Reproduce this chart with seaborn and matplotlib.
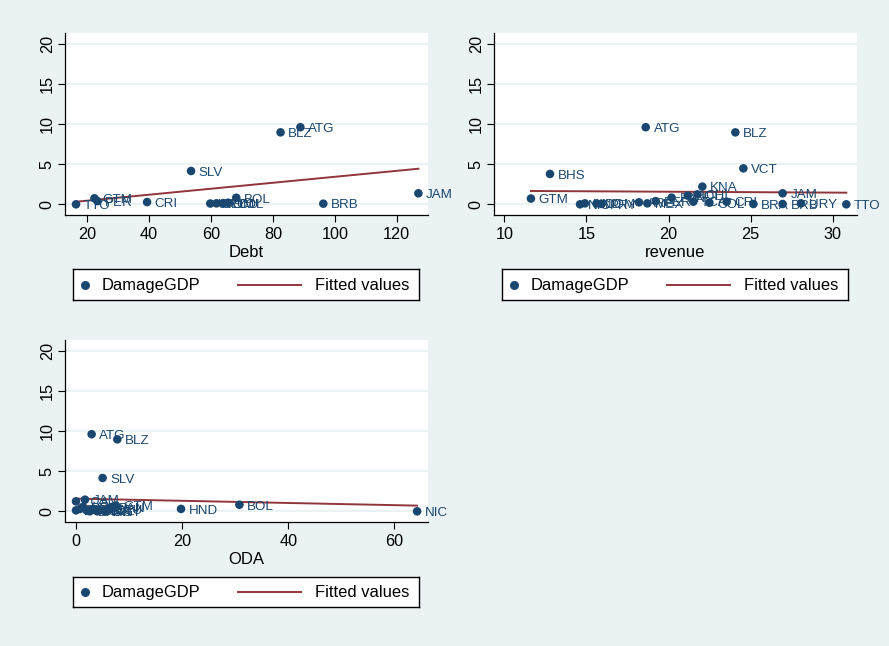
import matplotlib
matplotlib.use('Agg')
import matplotlib.pyplot as plt
import seaborn as sns
import pandas as pd

plt.rcParams['font.family'] = ['Liberation Sans', 'DejaVu Sans']

BG = '#EAF2F3'
NAVY = '#1A476F'
MAROON = '#90353B'

# ---------------- data ----------------
debt_country = ['TTO', 'GTM', 'PER', 'CRI', 'SLV', 'URY', 'DOM', 'ECU', 'COL',
                'BOL', 'BLZ', 'ATG', 'BRB', 'JAM']
debt_x = [16.45, 22.4, 23.4, 39.4, 53.6, 59.8, 61.8, 64.0, 65.6,
          68.2, 82.5, 88.9, 96.3, 127.0]
debt_y = [0.0, 0.75, 0.4, 0.28, 4.15, 0.1, 0.12, 0.15, 0.2,
          0.82, 8.96, 9.6, 0.08, 1.37]
debt_fit_x = [16.45, 127.0]
debt_fit_y = [0.32, 4.43]

rev_country = ['GTM', 'BHS', 'NIC', 'HND', 'DOM', 'PRY', 'ARG', 'ATG', 'MEX',
               'PER', 'PAN', 'BOL', 'TCA', 'CHL', 'KNA', 'COL', 'CRI', 'BLZ',
               'VCT', 'BRA', 'BRB', 'JAM', 'URY', 'TTO']
rev_x = [11.62, 12.78, 14.61, 14.91, 15.62, 15.93, 18.2, 18.61, 18.71,
         19.22, 20.19, 21.17, 21.51, 21.76, 22.06, 22.49, 23.54, 24.07,
         24.56, 25.17, 26.95, 26.95, 28.07, 30.83]
rev_y = [0.72, 3.78, 0.0, 0.12, 0.12, 0.04, 0.25, 9.6, 0.12,
         0.4, 0.83, 1.08, 0.33, 1.24, 2.2, 0.2, 0.33, 8.96,
         4.48, 0.04, 0.04, 1.37, 0.12, 0.0]
rev_fit_x = [11.62, 30.83]
rev_fit_y = [1.66, 1.45]

oda_country = ['ATG', 'BLZ', 'SLV', 'JAM', 'LCA', 'GTM', 'HND', 'BOL', 'NIC',
               'DOM', 'CRI', 'PER', 'MEX', 'COL', 'ECU', 'PAN', 'PRY', 'BRA',
               'ARG', 'URY']
oda_x = [2.95, 7.79, 5.02, 1.7, 0.0, 7.54, 19.8, 30.8, 64.3,
         0.0, 0.75, 2.0, 3.27, 4.5, 5.8, 6.7, 1.3, 2.6, 4.0, 5.5]
oda_y = [9.6, 8.96, 4.15, 1.45, 1.24, 0.72, 0.3, 0.82, 0.0,
         0.12, 0.3, 0.12, 0.3, 0.12, 0.3, 0.55, 0.55, 0.0, 0.0, 0.0]
oda_fit_x = [0.0, 64.3]
oda_fit_y = [1.58, 0.71]

yticks = [0, 5, 10, 15, 20]

W, H = 889, 646
fig = plt.figure(figsize=(W / 100, H / 100), dpi=100, facecolor=BG)


def px_rect(left, top, right, bottom):
    return [left / W, 1 - bottom / H, (right - left) / W, (bottom - top) / H]


def panel(rect, x, y, labels, fitx, fity, xlim, xticks, xlabel, legrect):
    ax = fig.add_axes(px_rect(*rect))
    ax.set_facecolor('white')
    df = pd.DataFrame({'x': x, 'y': y, 'lab': labels})
    sns.lineplot(x=fitx, y=fity, ax=ax, color=MAROON, lw=1.4, zorder=2)
    sns.scatterplot(data=df, x='x', y='y', ax=ax, color=NAVY, s=38,
                    edgecolor='none', linewidth=0, legend=False, zorder=3)
    for xi, yi, lab in zip(df['x'], df['y'], df['lab']):
        ax.annotate(lab, (xi, yi), xytext=(5.6, -1.3), textcoords='offset points',
                    va='center', ha='left', fontsize=9.6, color=NAVY,
                    annotation_clip=False, zorder=4)
    ax.set_xlim(*xlim)
    ax.set_ylim(-1.33, 21.33)
    ax.set_xticks(xticks)
    ax.set_yticks(yticks)
    ax.yaxis.grid(True, color=BG, lw=1.6)
    ax.xaxis.grid(False)
    ax.set_axisbelow(True)
    for s in ['top', 'right']:
        ax.spines[s].set_visible(False)
    for s in ['left', 'bottom']:
        ax.spines[s].set_color('black')
        ax.spines[s].set_linewidth(0.9)
    ax.tick_params(axis='both', direction='out', length=4.8, width=0.8,
                   color='black', labelsize=11.7, labelcolor='black',
                   left=True, bottom=True)
    ax.tick_params(axis='y', pad=2.5)
    ax.tick_params(axis='x', pad=3.5)
    for t in ax.get_yticklabels():
        t.set_rotation(90)
        t.set_va('center')
    ax.set_xlabel(xlabel, fontsize=12, labelpad=2.2)
    ax.set_ylabel('')

    # legend box (Stata style)
    lax = fig.add_axes(px_rect(*legrect))
    lax.set_xlim(0, 346)
    lax.set_ylim(0, 31)
    lax.set_xticks([])
    lax.set_yticks([])
    lax.set_facecolor('white')
    for s in lax.spines.values():
        s.set_color('black')
        s.set_linewidth(1.0)
    lax.plot([12], [15.5], 'o', color=NAVY, ms=6.5, mec='none')
    lax.plot([165, 228], [15.5, 15.5], color=MAROON, lw=1.4)
    lax.text(29, 14.6, 'DamageGDP', va='center', ha='left', fontsize=11.9)
    lax.text(242, 14.6, 'Fitted values', va='center', ha='left', fontsize=11.9)
    return ax


panel((65, 33, 428, 215), debt_x, debt_y, debt_country, debt_fit_x, debt_fit_y,
      (12.9, 130.1), [20, 40, 60, 80, 100, 120], 'Debt', (73, 269, 419, 300))
panel((494, 33, 857, 215), rev_x, rev_y, rev_country, rev_fit_x, rev_fit_y,
      (9.37, 31.48), [10, 15, 20, 25, 30], 'revenue', (502, 269, 848, 300))
panel((65, 340, 428, 522), oda_x, oda_y, oda_country, oda_fit_x, oda_fit_y,
      (-2.07, 66.35), [0, 20, 40, 60], 'ODA', (73, 577, 419, 607))

fig.savefig('out.png', dpi=100, facecolor=BG)
